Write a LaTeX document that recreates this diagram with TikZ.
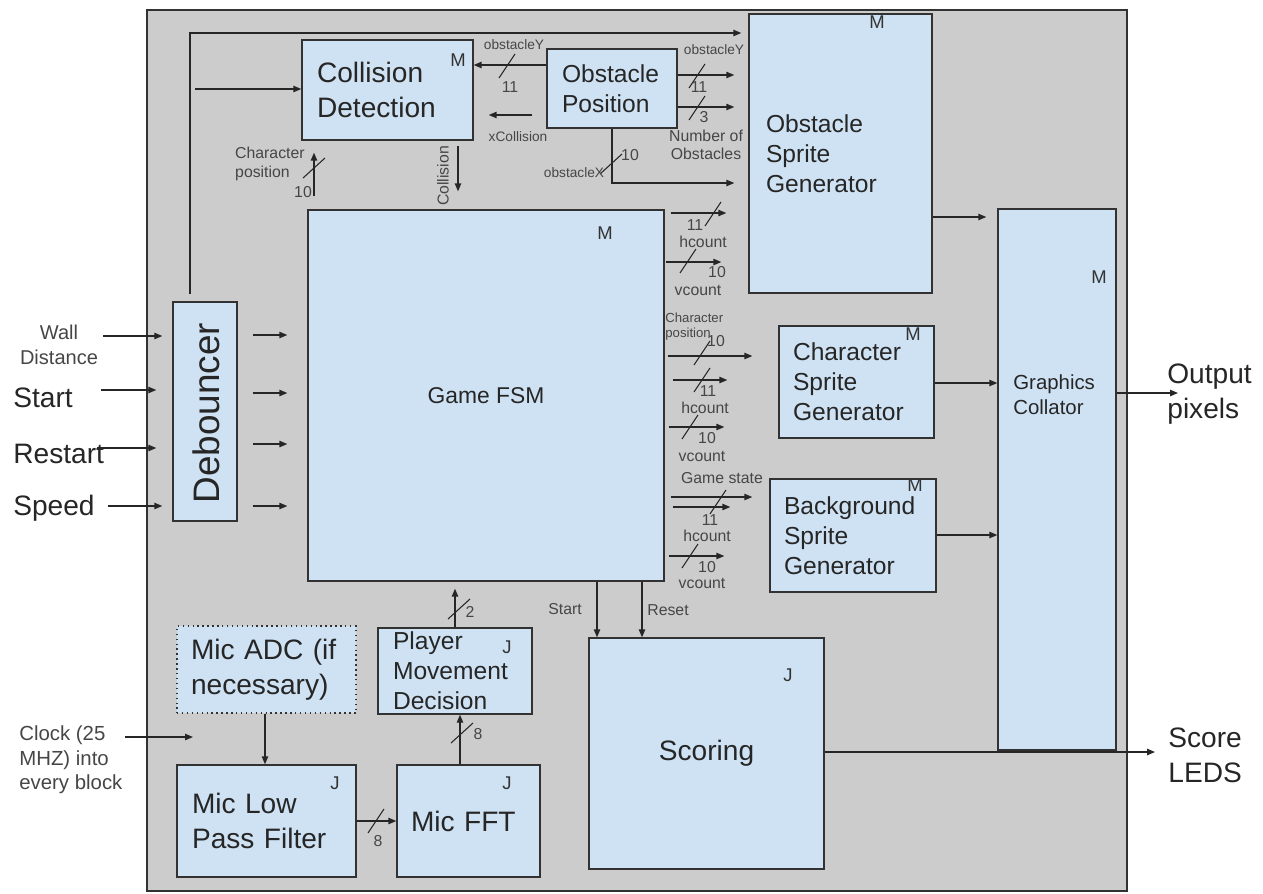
\documentclass[tikz,border=0pt]{standalone}
\usepackage{fontspec}
\setmainfont{Liberation Sans}
\usepackage{tikz}
\usetikzlibrary{arrows.meta}
\definecolor{boardgray}{RGB}{204, 204, 204}
\definecolor{boxblue}{RGB}{207, 226, 243}
\definecolor{edgegray}{RGB}{50, 50, 50}
\definecolor{notegray}{RGB}{70, 70, 70}

\tikzset{
  blk/.style={draw=edgegray, fill=boxblue, line width=0.8pt,
    inner ysep=0pt, align=left, text=black!85},
  big/.style={font=\fontsize{16}{20}\selectfont},
  mid/.style={font=\fontsize{14}{17}\selectfont},
  arr/.style={-{Triangle[length=4.5pt, width=3.6pt]}, line width=0.7pt, draw=black!85},
  lbl/.style={inner sep=0pt, text=notegray, font=\fontsize{9}{10.5}\selectfont},
  smlbl/.style={lbl, font=\fontsize{7.8}{9}\selectfont},
  tag/.style={inner sep=0pt, text=black!80, font=\fontsize{10.5}{12}\selectfont},
  hbus/.pic={\draw[line width=0.6pt, black!85] (-1.6mm,-2.4mm) -- (1.6mm,2.4mm);},
  vbus/.pic={\draw[line width=0.6pt, black!85] (-2.2mm,-2mm) -- (2.2mm,2mm);},
}

\begin{document}
\begin{tikzpicture}[x=0.02cm, y=-0.02cm]
  \useasboundingbox (0,0) rectangle (1263,893);
  % the board
  \draw[fill=boardgray, draw=edgegray, line width=1.1pt] (147,10) rectangle (1127,891);

  % blocks
  \node[blk, big, minimum width=3.42cm, minimum height=2cm, inner xsep=3mm,
    text width=2.82cm] (cd) at (387.5,90) {Collision\\Detection};
  \node[blk, mid, minimum width=2.6cm, minimum height=1.58cm, inner xsep=3mm,
    text width=2cm] (op) at (612,88.5) {Obstacle\\Position};
  \node[blk, mid, minimum width=3.66cm, minimum height=5.58cm, inner xsep=3.4mm,
    text width=2.98cm] (osg) at (840.5,153.5) {Obstacle\\Sprite\\Generator};
  \node[blk, minimum width=7.12cm, minimum height=7.42cm, align=center,
    font=\fontsize{13}{16}\selectfont] (fsm) at (486,395.5) {Game FSM};
  \node[blk, minimum width=2.36cm, minimum height=10.82cm] (gc) at (1057,479.5) {};
  \node[anchor=west, inner sep=0pt, align=left, text=black!85,
    font=\fontsize{11.6}{14.2}\selectfont] (gctext) at (1013,395) {Graphics\\Collator};
  \node[blk, mid, minimum width=3.1cm, minimum height=2.24cm, inner xsep=2.8mm,
    text width=2.54cm] (csg) at (856.5,382) {Character\\Sprite\\Generator};
  \node[blk, mid, minimum width=3.32cm, minimum height=2.26cm, inner xsep=2.8mm,
    text width=2.76cm] (bsg) at (853,535.5) {Background\\Sprite\\Generator};
  \node[blk, minimum width=1.28cm, minimum height=4.38cm] (deb) at (205,411.5) {};
  \node[rotate=90, inner sep=0pt, text=black!85,
    font=\fontsize{21}{24}\selectfont] (debtext) at (206,413) {Debouncer};
  \node[blk, big, dotted, minimum width=3.58cm, minimum height=1.74cm, inner xsep=2.8mm,
    text width=3.02cm] (adc) at (266.5,669.5) {Mic ADC (if\\necessary)};
  \node[blk, big, minimum width=3.58cm, minimum height=2.24cm, inner xsep=3mm,
    text width=2.98cm] (lpf) at (266.5,821) {Mic Low\\Pass Filter};
  \node[blk, big, minimum width=2.86cm, minimum height=2.24cm, inner xsep=2.8mm,
    text width=2.3cm] (fft) at (468.5,821) {Mic FFT};
  \node[blk, mid, minimum width=3.08cm, minimum height=1.72cm, inner xsep=3mm,
    text width=2.48cm] (pmd) at (455,671) {Player\\Movement\\Decision};
  \node[blk, big, minimum width=4.7cm, minimum height=4.62cm, align=center] (sc)
    at (706.5,753.5) {Scoring};

  % owner tags
  \node[tag] (cdm) at (458,60) {M};
  \node[tag] (osgm) at (877,22) {M};
  \node[tag] (fsmm) at (605,233) {M};
  \node[tag] (gcm) at (1099,277) {M};
  \node[tag] (csgm) at (913,334) {M};
  \node[tag] (bsgm) at (915,485) {M};
  \node[tag] (pmdj) at (507,647) {J};
  \node[tag] (lpfj) at (335,783) {J};
  \node[tag] (fftj) at (507,783) {J};
  \node[tag] (scj) at (788,675) {J};

  % outside texts
  \node[inner sep=0pt, align=center, text=notegray,
    font=\fontsize{11.4}{14}\selectfont] (wall) at (59,345) {Wall\\Distance};
  \node[big, anchor=base west, inner sep=0pt, text=black!85] (start) at (13,407) {Start};
  \node[big, anchor=base west, inner sep=0pt, text=black!85] (restart) at (13,463) {Restart};
  \node[big, anchor=base west, inner sep=0pt, text=black!85] (speed) at (13,515) {Speed};
  \node[anchor=west, inner sep=0pt, align=left, text=notegray,
    font=\fontsize{11.6}{14}\selectfont] (clk) at (19,760) {Clock (25\\MHZ) into\\every block};
  \node[big, anchor=west, inner sep=0pt, align=left, text=black!85] (outpx)
    at (1167,394) {Output\\pixels};
  \node[big, anchor=west, inner sep=0pt, align=left, text=black!85] (leds)
    at (1168,755) {Score\\LEDS};

  % inputs and debouncer
  \draw[arr, shorten <=1mm, shorten >=2mm] (wall.east |- 0,336) -- (deb.west |- 0,336);
  \draw[arr, shorten <=5.6mm, shorten >=3.2mm] (start.east |- 0,390) -- (deb.west |- 0,390);
  \draw[arr, shorten <=-1.5mm, shorten >=3.2mm] (restart.east |- 0,448) -- (deb.west |- 0,448);
  \draw[arr, shorten <=2.6mm, shorten >=2mm] (speed.east |- 0,506) -- (deb.west |- 0,506);
  \foreach \y in {335,393,444,506}
    \draw[arr, shorten <=3mm, shorten >=4mm] (deb.east |- 0,\y) -- (fsm.west |- 0,\y);
  \draw[arr, shorten <=1.4mm, shorten >=1.4mm] ([xshift=-3mm]deb.north) |- (osg.west |- 0,33);
  \coordinate (cdin) at (195,89);
  \draw[arr] (cdin) -- (cd.west |- cdin);

  % collision detection
  \draw[arr, shorten <=2.6mm, shorten >=2.4mm] (fsm.north -| 314,0) -- (cd.south -| 314,0);
  \pic at (314,168) {vbus};
  \node[lbl, anchor=east, align=left] (cpl) at (305,164) {Character\\position};
  \node[lbl] (cpn) at (303,192) {10};
  \draw[arr, shorten <=1mm, shorten >=3.6mm] (cd.south -| 458,0) -- (fsm.north -| 458,0);
  \node[lbl, rotate=90] (coll) at (443,176) {Collision};
  \draw[arr] (op.west |- 0,65) -- (cd.east |- 0,65);
  \pic at (507,66) {hbus};
  \node[smlbl] (oyl) at (514,45) {obstacleY};
  \node[lbl] (oyn) at (510,87) {11};
  \draw[arr, shorten <=2.8mm, shorten >=3mm] (op.west |- 0,115) -- (cd.east |- 0,115);
  \node[smlbl] (xcl) at (518,137) {xCollision};

  % obstacle position to sprite
  \draw[arr, shorten >=2.8mm] (op.east |- 0,75) -- (osg.west |- 0,75);
  \pic at (697,76) {hbus};
  \node[smlbl] (oy2l) at (714,50) {obstacleY};
  \node[lbl] (oy2n) at (699,87) {11};
  \draw[arr, shorten >=2.8mm] (op.east |- 0,107) -- (osg.west |- 0,107);
  \pic at (697,108) {hbus};
  \node[lbl] (nobn) at (704,117) {3};
  \node[lbl, align=center] (nobl) at (706,145) {Number of\\Obstacles};
  \draw[arr, shorten >=2.8mm] (op.south -| 612,0) |- (osg.west |- 0,183);
  \pic at (611,164) {vbus};
  \node[lbl] (oxn) at (630,155) {10};
  \node[smlbl] (oxl) at (574,173) {obstacleX};

  % game fsm to obstacle sprite
  \draw[arr, shorten <=1.2mm, shorten >=4.4mm] (fsm.east |- 0,213) -- (osg.west |- 0,213);
  \pic at (713,214) {hbus};
  \node[lbl] (h1n) at (695,225) {11};
  \node[lbl] (h1l) at (703,242) {hcount};
  \draw[arr, shorten <=0.2mm, shorten >=5.4mm] (fsm.east |- 0,262) -- (osg.west |- 0,262);
  \pic at (688,261) {hbus};
  \node[lbl] (v1n) at (717,272) {10};
  \node[lbl] (v1l) at (698,290) {vcount};

  % game fsm to character sprite
  \node[lbl, anchor=south west, align=left, font=\fontsize{7.5}{9}\selectfont] (cp2l)
    at (665,341) {Character\\position};
  \node[lbl] (cp2n) at (716,341) {10};
  \draw[arr, shorten <=0.6mm, shorten >=5.2mm] (fsm.east |- 0,356) -- (csg.west |- 0,356);
  \pic at (702,353) {hbus};
  \draw[arr, shorten <=1.6mm, shorten >=10.2mm] (fsm.east |- 0,380) -- (csg.west |- 0,380);
  \pic at (702,380) {hbus};
  \node[lbl] (h2n) at (708,391) {11};
  \node[lbl] (h2l) at (705,408) {hcount};
  \draw[arr, shorten <=0.8mm, shorten >=10.8mm] (fsm.east |- 0,427) -- (csg.west |- 0,427);
  \pic at (690,427) {hbus};
  \node[lbl] (v2n) at (707,438) {10};
  \node[lbl] (v2l) at (702,456) {vcount};

  % game fsm to background sprite
  \node[lbl] (gsl) at (722,478) {Game state};
  \draw[arr, shorten <=1.2mm, shorten >=3.4mm] (fsm.east |- 0,497) -- (bsg.west |- 0,497);
  \draw[arr, shorten <=1.6mm, shorten >=7.8mm] (fsm.east |- 0,507) -- (bsg.west |- 0,507);
  \pic at (718,502) {hbus};
  \node[lbl] (h3n) at (710,520) {11};
  \node[lbl] (h3l) at (707,536) {hcount};
  \draw[arr, shorten <=0.8mm, shorten >=9mm] (fsm.east |- 0,556) -- (bsg.west |- 0,556);
  \pic at (690,556) {hbus};
  \node[lbl] (v3n) at (707,567) {10};
  \node[lbl] (v3l) at (702,583) {vcount};

  % sprites to collator and outputs
  \draw[arr, shorten >=2.2mm] (osg.east |- 0,217) -- (gc.west |- 0,217);
  \draw[arr] (csg.east |- 0,383) -- (gc.west |- 0,383);
  \draw[arr] (bsg.east |- 0,535) -- (gc.west |- 0,535);
  \draw[arr, shorten >=-2.2mm] (gc.east |- 0,393) -- (outpx.west |- 0,393);
  \draw[arr, shorten >=2.6mm] (sc.east |- 0,752) -- (leds.west |- 0,752);

  % scoring
  \draw[arr] (fsm.south -| 597,0) -- (sc.north -| 597,0);
  \node[lbl] (stl) at (565,609) {Start};
  \draw[arr] (fsm.south -| 642,0) -- (sc.north -| 642,0);
  \node[lbl] (rsl) at (668,610) {Reset};

  % microphone chain
  \draw[arr, shorten >=1.4mm] (pmd.north -| 455,0) -- (fsm.south -| 455,0);
  \pic at (459,609) {vbus};
  \node[lbl] (pmdn) at (470,612) {2};
  \draw[arr] (fft.north -| 460,0) -- (pmd.south -| 460,0);
  \pic at (462,733) {vbus};
  \node[lbl] (fftn) at (478,734) {8};
  \draw[arr] (lpf.east |- 0,821) -- (fft.west |- 0,821);
  \pic at (376,821) {hbus};
  \node[lbl] (lpfn) at (378,841) {8};
  \draw[arr] (adc.south -| 265,0) -- (lpf.north -| 265,0);
  \coordinate (clkend) at (193,737);
  \draw[arr, shorten <=0.4mm] (clk.east |- clkend) -- (clkend);
\end{tikzpicture}
\end{document}
